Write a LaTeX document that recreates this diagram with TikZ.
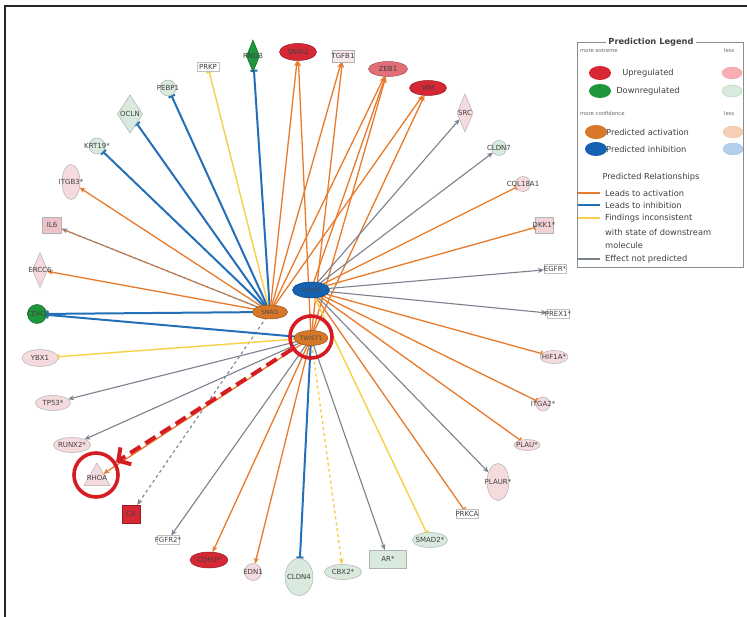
\documentclass[tikz,border=0pt]{standalone}
\usepackage{fontspec}
\setmainfont{DejaVu Sans}
\usetikzlibrary{shapes.geometric,arrows.meta,backgrounds}
\definecolor{cact}{RGB}{232,122,44}
\definecolor{cinh}{RGB}{36,112,184}
\definecolor{cinc}{RGB}{246,208,70}
\definecolor{cnpr}{RGB}{122,130,142}
\definecolor{cup}{RGB}{214,40,52}
\definecolor{cupm}{RGB}{226,110,120}
\definecolor{cupl}{RGB}{245,218,222}
\definecolor{cdn}{RGB}{30,150,60}
\definecolor{cdnl}{RGB}{216,234,221}
\definecolor{chor}{RGB}{214,120,40}
\definecolor{chbl}{RGB}{22,98,178}
\definecolor{credc}{RGB}{214,28,34}
\definecolor{corl}{RGB}{246,206,182}
\definecolor{cbll}{RGB}{178,208,236}
\definecolor{cpink}{RGB}{232,180,188}
\begin{document}
\begin{tikzpicture}[x=1pt,y=-1pt,
  lab/.style={font=\fontsize{7}{8}\selectfont, text=black!75, inner sep=0pt},
  hlab/.style={font=\fontsize{6}{7}\selectfont, text=black!70, inner sep=0pt},
  tx/.style={label={[lab]center:#1}},
  htx/.style={label={[hlab]center:#1}},
  base/.style={inner sep=0.5pt, outer sep=0pt, line width=0.5pt},
  pp/.style={base, fill=cupl, draw=black!30},
  pg/.style={base, fill=cdnl, draw=black!30},
  ell/.style={ellipse, minimum width=#1, minimum height=15pt},
  circ/.style={circle, minimum size=#1},
  dia/.style={diamond, minimum width=16pt, minimum height=#1},
  kin/.style={rectangle, minimum width=22pt, minimum height=9pt, base, draw=black!25, fill=white},
  edge/.style={line width=1.3pt},
  eAct/.style={edge, draw=cact, -{Stealth[length=6pt,width=5pt]}},
  eActBar/.style={edge, draw=cact, -{Bar[width=6pt]}},
  eInh/.style={edge, line width=2pt, draw=cinh, -{Bar[width=7pt]}},
  eInc/.style={edge, line width=1.4pt, draw=cinc, -{Bar[width=6pt]}},
  eNp/.style={edge, line width=1.1pt, draw=cnpr, -{Stealth[length=6pt,width=5pt]}},
  leg/.style={font=\fontsize{8.3}{9}\selectfont, text=black!75, inner sep=0pt},
  legs/.style={font=\fontsize{5.3}{6}\selectfont, text=black!60, inner sep=0pt},
  legl/.style={line width=1.8pt}
]
\useasboundingbox (0,0) rectangle (747,617);
\draw[line width=1.6pt, black!85] (747,6) -- (5,6) -- (5,617);

% ---------- hubs ----------
\node[base, ellipse, fill=chbl, draw=chbl!70!black, minimum width=37pt, minimum height=16pt, htx=GRHL2] (hA) at (311,290) {};
\node[base, ellipse, fill=chor, draw=chor!70!black, minimum width=35pt, minimum height=14pt, htx=SNAI1] (hB) at (270,312) {};
\node[base, ellipse, fill=chor, draw=chor!70!black, minimum width=34pt, minimum height=15pt, htx=TWIST1] (hC) at (311,338) {};

% ---------- peripheral ----------
\node[kin, tx=PRKP] (PRKP) at (208,67) {};
\node[base, diamond, fill=cdn, draw=cdn!70!black, minimum width=13pt, minimum height=32pt, tx=RND3] (RND3) at (253,56) {};
\node[base, ellipse, fill=cup, draw=cup!70!black, minimum width=37pt, minimum height=17pt, tx=SNAI2] (SNAI2) at (298,52) {};
\node[pp, rectangle, minimum width=22pt, minimum height=12pt, fill=cupl!60, tx=TGFB1] (TGFB1) at (343,56) {};
\node[base, ellipse, fill=cupm, draw=cupm!70!black, minimum width=39pt, minimum height=15pt, tx=ZEB1] (ZEB1) at (388,69) {};
\node[base, ellipse, fill=cup, draw=cup!70!black, minimum width=37pt, minimum height=15pt, tx=VIM] (VIM) at (428,88) {};
\node[pp, dia=38pt, tx=SRC] (SRC) at (465,113) {};
\node[pg, circ=15pt, tx=CLDN7] (CLDN7) at (499,148) {};
\node[pp, circ=15pt, tx=COL18A1] (COL18A1) at (523,184) {};
\node[pp, rectangle, fill=cpink!60, minimum width=18pt, minimum height=16pt, tx=DKK1*] (DKK1) at (544,225) {};
\node[kin, tx=EGFR*] (EGFR) at (555,269) {};
\node[kin, tx=PREX1*] (PREX1) at (558,314) {};
\node[pp, ell=28pt, minimum height=13pt, tx=HIF1A*] (HIF1A) at (554,357) {};
\node[pp, circ=14pt, tx=ITGA2*] (ITGA2) at (543,404) {};
\node[pp, ell=26pt, minimum height=11pt, tx=PLAU*] (PLAU) at (527,445) {};
\node[pp, ellipse, minimum width=22pt, minimum height=37pt, tx=PLAUR*] (PLAUR) at (498,482) {};
\node[kin, tx=PRKCA] (PRKCA) at (467,514) {};
\node[pg, ell=35pt, tx=SMAD2*] (SMAD2) at (430,540) {};
\node[pg, rectangle, minimum width=37pt, minimum height=18pt, tx=AR*] (AR) at (388,559) {};
\node[pg, ell=37pt, tx=CBX2*] (CBX2) at (343,572) {};
\node[pg, ellipse, minimum width=28pt, minimum height=37pt, tx=CLDN4] (CLDN4) at (299,577) {};
\node[pp, circ=17pt, tx=EDN1] (EDN1) at (253,572) {};
\node[base, ellipse, fill=cup, draw=cup!70!black, minimum width=38pt, minimum height=16pt, tx=CDH2*] (CDH2) at (209,560) {};
\node[kin, tx=FGFR2*] (FGFR2) at (168,540) {};
\node[base, rectangle, fill=cup, draw=cup!70!black, minimum size=18pt, tx=CA] (CA) at (131,514) {};
\node[pp, regular polygon, regular polygon sides=3, minimum size=30pt, tx=RHOA] (RHOA) at (97,478) {};
\node[pp, ell=37pt, tx=RUNX2*] (RUNX2) at (72,445) {};
\node[pp, ell=35pt, tx=TP53*] (TP53) at (53,403) {};
\node[pp, ell=36pt, minimum height=17pt, tx=YBX1] (YBX1) at (40,358) {};
\node[base, circle, fill=cdn, draw=cdn!70!black, minimum size=19pt, tx=CDH1] (CDH1) at (37,314) {};
\node[pp, dia=35pt, minimum width=15pt, tx=ERCC6] (ERCC6) at (40,270) {};
\node[pp, rectangle, fill=cpink!80, minimum width=19pt, minimum height=16pt, tx=IL6] (IL6) at (52,225) {};
\node[pp, ellipse, minimum width=18pt, minimum height=35pt, tx=ITGB3*] (ITGB3) at (71,182) {};
\node[pg, circ=16pt, tx=KRT19*] (KRT19) at (97,146) {};
\node[pg, dia=38pt, minimum width=25pt, tx=OCLN] (OCLN) at (130,114) {};
\node[pg, circ=16pt, tx=PEBP1] (PEBP1) at (168,88) {};

% ---------- edges ----------
\begin{scope}[on background layer]
\fill[white] (0,0) rectangle (747,617);
\draw[eInh] (hB.center) -- (PEBP1);
\draw[eInh] (hB.center) -- (OCLN);
\draw[eInh] (hB.center) -- (KRT19);
\draw[eInc] (hB.center) -- (PRKP);
\draw[eInh] (hB.center) -- (RND3);
\draw[eAct] (hB.center) -- (SNAI2);
\draw[eAct] (hC.center) -- (SNAI2);
\draw[eAct] (hB.center) -- (TGFB1);
\draw[eAct] (hC.center) -- (TGFB1);
\draw[eAct] (hB.center) -- (ZEB1);
\draw[eAct] (hA.center) -- (ZEB1);
\draw[eAct] (hC.center) -- (ZEB1);
\draw[eAct] (hB.center) -- (VIM);
\draw[eAct] (hC.center) -- (VIM);
\draw[eNp] (hA.center) -- (SRC);
\draw[eNp] (hA.center) -- (CLDN7);
\draw[eActBar] (hA.center) -- (COL18A1);
\draw[eActBar] (hA.center) -- (DKK1);
\draw[eNp] (hA.center) -- (EGFR);
\draw[eNp] (hA.center) -- (PREX1);
\draw[eActBar] (hA.center) -- (HIF1A);
\draw[eActBar] (hA.center) -- (ITGA2);
\draw[eActBar] (hA.center) -- (PLAU);
\draw[eNp] (hA.center) -- (PLAUR);
\draw[eActBar] (hA.center) -- (PRKCA);
\draw[eInc] (hA.center) -- (SMAD2);
\draw[eNp] (hC.center) -- (AR);
\draw[eInc, dashed, -{Stealth[length=6pt,width=5pt]}] (hC.center) -- (CBX2);
\draw[eInh] (hC.center) -- (CLDN4);
\draw[eAct] (hC.center) -- (EDN1);
\draw[eAct] (hC.center) -- (CDH2);
\draw[eNp] (hC.center) -- (FGFR2);
\draw[eNp, dashed] (hB.center) -- (CA);
\draw[eAct] (hC.center) -- (RHOA);
\draw[eNp] (hC.center) -- (RUNX2);
\draw[eNp] (hC.center) -- (TP53);
\draw[eInc] (hC.center) -- (YBX1);
\draw[eInh] (hB.center) -- (CDH1);
\draw[eInh] (hC.center) -- (CDH1);
\draw[eAct] (hB.center) -- (ERCC6);
\draw[eNp] (hB.center) -- (IL6);
\draw[edge, draw=cact, dashed] (hB.center) -- (IL6);
\draw[eAct] (hB.center) -- (ITGB3);
\end{scope}

% ---------- highlight ----------
\node[circle, draw=credc, line width=3.6pt, minimum size=42pt, inner sep=0pt] (rc1) at (311,337) {};
\node[circle, draw=credc, line width=3.6pt, minimum size=44pt, inner sep=0pt] (rc2) at (96,475) {};
\draw[credc, line width=4pt, dash pattern=on 12pt off 6pt, -{Straight Barb[length=9pt,width=20pt]}] (rc1) -- (rc2);

% ---------- legend ----------
\draw[black!45, line width=0.8pt] (577,42) rectangle (743,267);
\node[leg, fill=white, inner xsep=2pt, font=\fontsize{8.3}{9}\selectfont\bfseries] (lgT) at (651,42) {Prediction Legend};
\node[legs, anchor=west] (lgE) at (580,51) {more extreme};
\node[legs, anchor=west] (lgL1) at (724,51) {less};
\node[ellipse, fill=cup, minimum width=22pt, minimum height=14pt, inner sep=0pt] (lgR) at (600,73) {};
\node[leg] (lgU) at (648,73) {Upregulated};
\node[ellipse, fill=cupl!80!red, draw=cup!40, minimum width=20pt, minimum height=12pt, inner sep=0pt] (lgRl) at (732,73) {};
\node[ellipse, fill=cdn, minimum width=22pt, minimum height=14pt, inner sep=0pt] (lgG) at (600,91) {};
\node[leg] (lgD) at (648,91) {Downregulated};
\node[ellipse, fill=cdnl, draw=cdn!40, minimum width=20pt, minimum height=12pt, inner sep=0pt] (lgGl) at (732,91) {};
\node[legs, anchor=west] (lgC) at (580,114) {more confidence};
\node[legs, anchor=west] (lgL2) at (724,114) {less};
\node[ellipse, fill=chor, minimum width=22pt, minimum height=14pt, inner sep=0pt] (lgO) at (596,132) {};
\node[leg, anchor=west] (lgPA) at (606,132) {Predicted activation};
\node[ellipse, fill=corl, draw=chor!40, minimum width=20pt, minimum height=12pt, inner sep=0pt] (lgOl) at (733,132) {};
\node[ellipse, fill=chbl, minimum width=22pt, minimum height=14pt, inner sep=0pt] (lgB) at (596,149) {};
\node[leg, anchor=west] (lgPI) at (606,149) {Predicted inhibition};
\node[ellipse, fill=cbll, draw=chbl!40, minimum width=20pt, minimum height=12pt, inner sep=0pt] (lgBl) at (733,149) {};
\node[leg] (lgPR) at (651,177) {Predicted Relationships};
\draw[legl, cact] (578,193) -- (600,193);
\node[leg, anchor=west] (lgLA) at (605,193) {Leads to activation};
\draw[legl, cinh] (578,205) -- (600,205);
\node[leg, anchor=west] (lgLI) at (605,205) {Leads to inhibition};
\draw[legl, cinc] (578,218) -- (600,218);
\node[leg, anchor=west] (lgF1) at (605,218) {Findings inconsistent};
\node[leg, anchor=west] (lgF2) at (605,232) {with state of downstream};
\node[leg, anchor=west] (lgF3) at (605,245) {molecule};
\draw[legl, cnpr] (578,259) -- (600,259);
\node[leg, anchor=west] (lgEN) at (605,259) {Effect not predicted};
\end{tikzpicture}
\end{document}
